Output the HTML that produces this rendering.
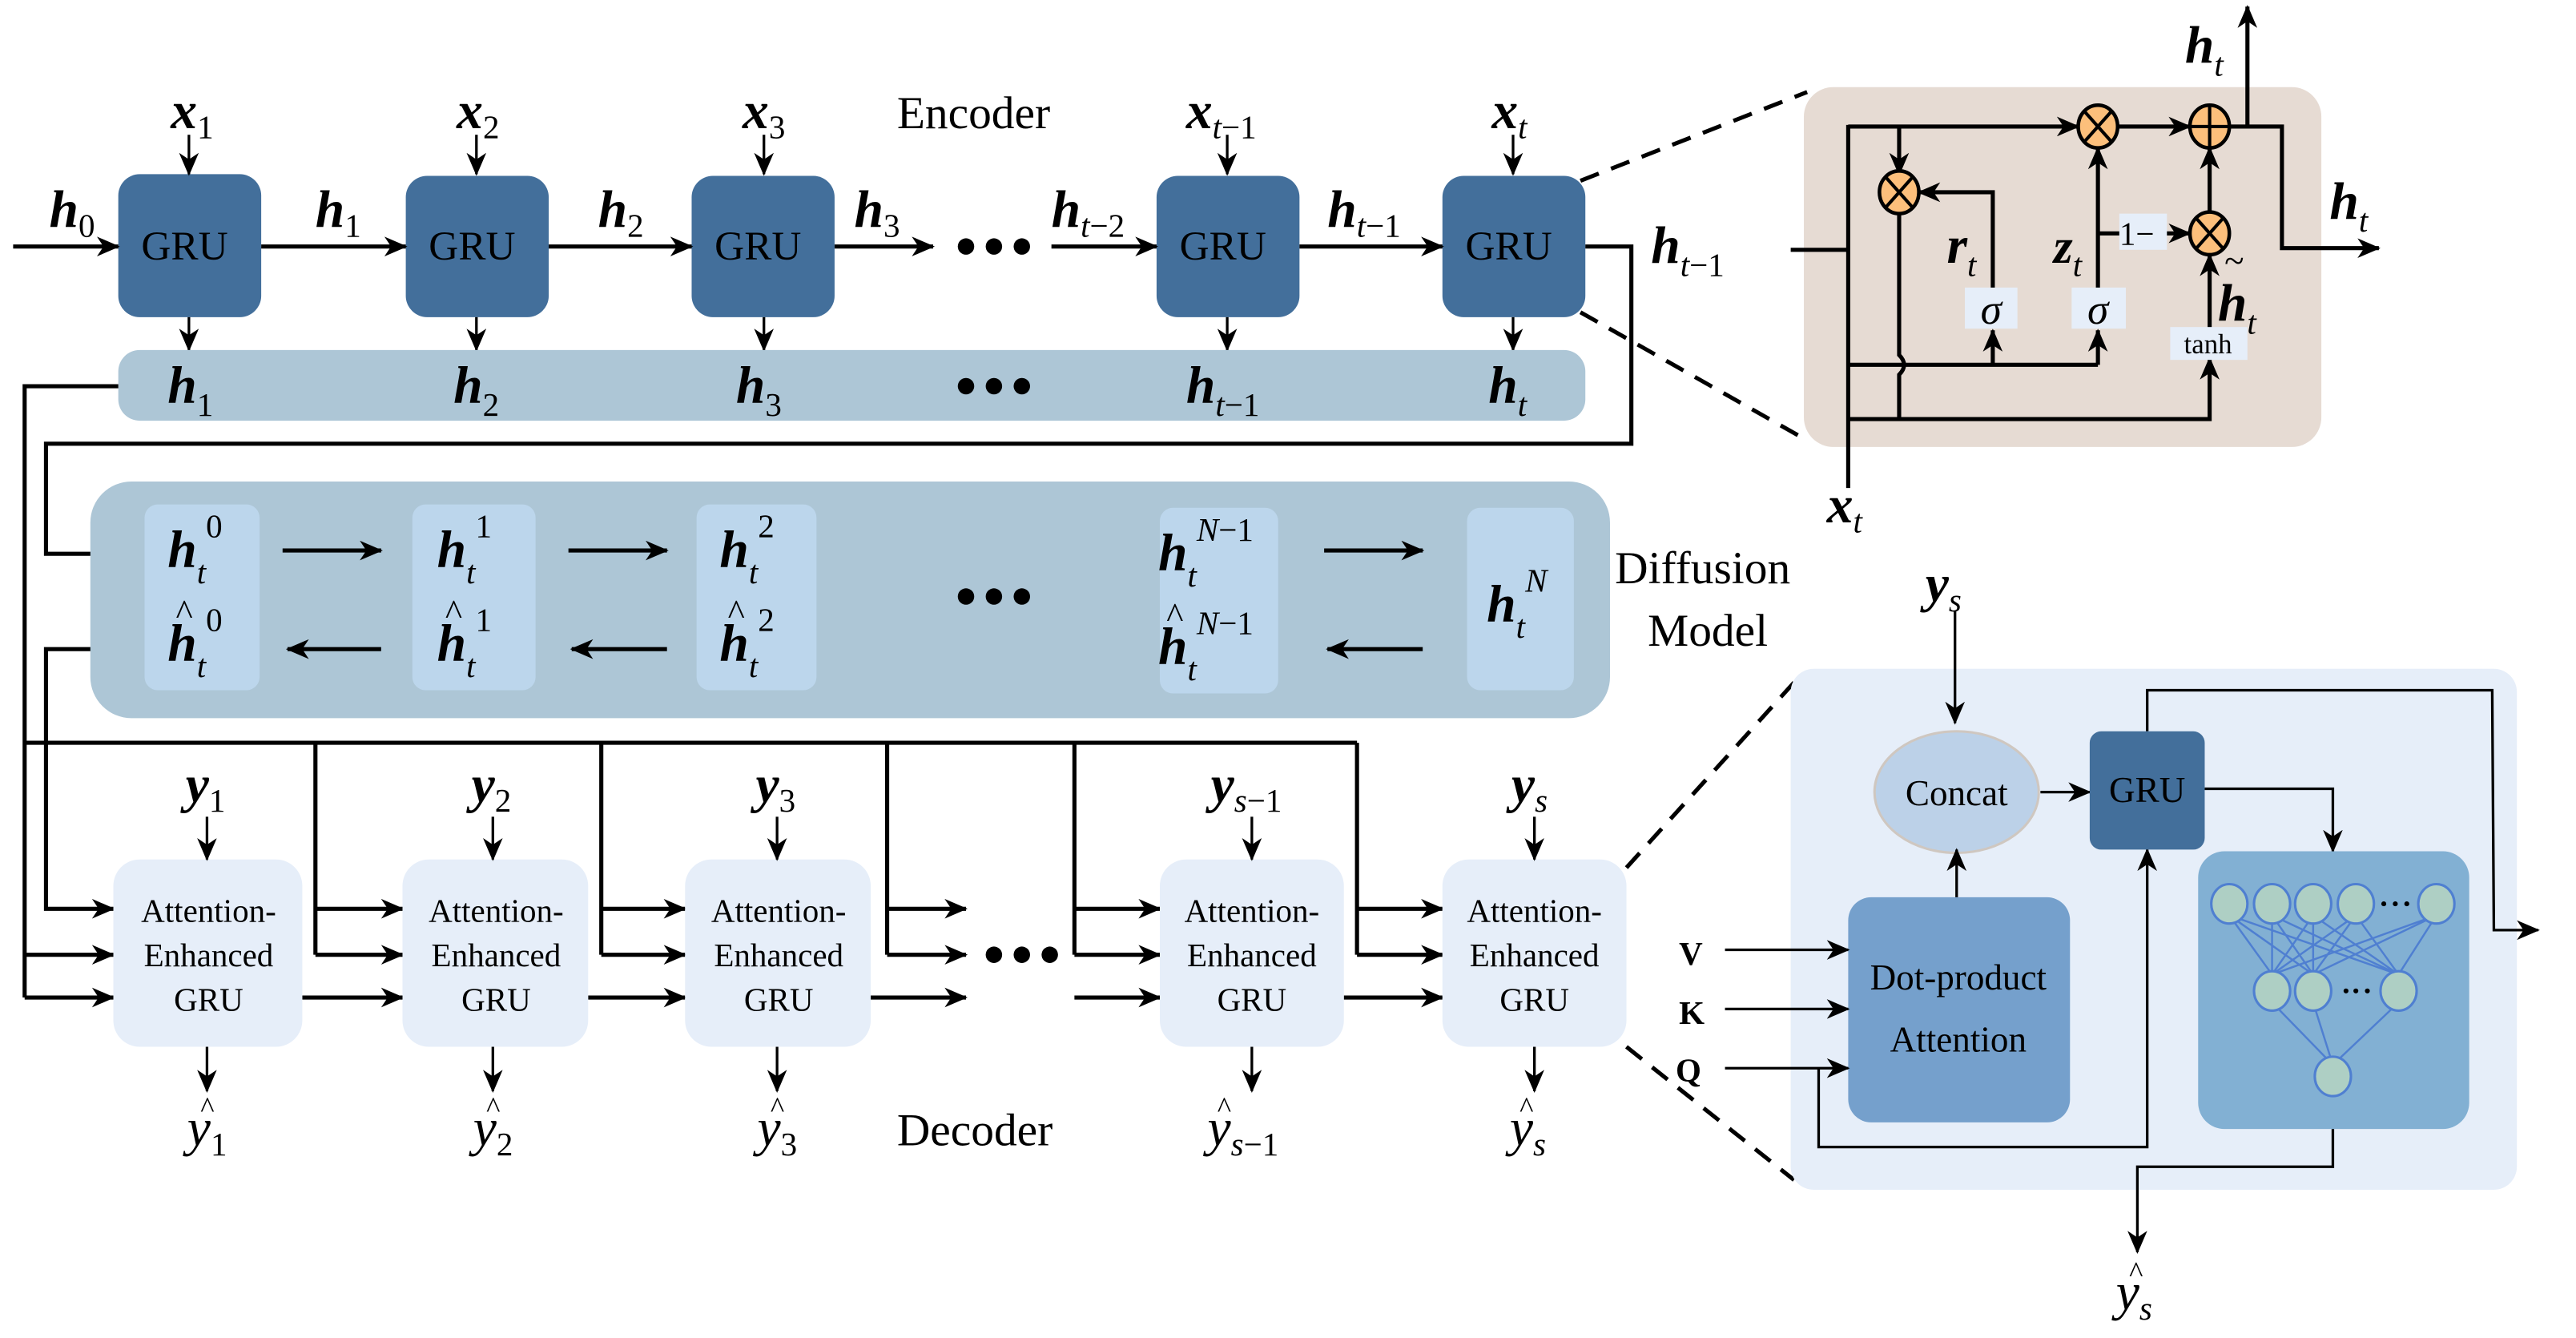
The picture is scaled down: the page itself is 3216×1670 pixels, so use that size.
<!DOCTYPE html>
<html><head><meta charset="utf-8"><style>
html,body{margin:0;padding:0;background:#fff;}
svg{display:block;}
text{font-family:"Liberation Serif",serif;fill:#000;}
.v{font-style:italic;font-weight:bold;font-size:32px;}
.s{font-style:italic;font-weight:normal;font-size:20px;}
.n{font-style:normal;font-weight:normal;font-size:20px;}
.yb{font-style:italic;font-weight:normal;font-size:32px;}
.g{font-size:25px;}
.a{font-size:20px;}
.ln{stroke:#000;stroke-width:2.5;fill:none;}
.tk{stroke:#000;stroke-width:1.6;fill:none;}
.d{stroke:#000;stroke-width:2.5;fill:none;stroke-dasharray:12 8;}
</style></head><body>
<svg width="3216" height="1670" viewBox="0 0 1568 814.2" preserveAspectRatio="none" xmlns="http://www.w3.org/2000/svg">
<defs>
<marker id="ar" markerUnits="userSpaceOnUse" markerWidth="14" markerHeight="12" refX="13" refY="6" orient="auto"><path d="M0,0 L14,6 L0,12 L4,6 Z" fill="#000"/></marker>
</defs>

<text x="546" y="78" font-size="28">Encoder</text>
<g fill="#436f9b">
<rect x="72" y="106" width="87" height="87" rx="13"/>
<rect x="247" y="107" width="87" height="86" rx="13"/>
<rect x="421" y="107" width="87" height="86" rx="13"/>
<rect x="704" y="107" width="87" height="86" rx="13"/>
<rect x="878" y="107" width="87" height="86" rx="13"/>
</g>
<g class="g"><text x="86" y="158">GRU</text><text x="261" y="158">GRU</text><text x="435" y="158">GRU</text><text x="718" y="158">GRU</text><text x="892" y="158">GRU</text></g>
<text x="104" y="78"><tspan class="v">x</tspan><tspan class="n" dy="6">1</tspan></text>
<text x="278" y="78"><tspan class="v">x</tspan><tspan class="n" dy="6">2</tspan></text>
<text x="452" y="78"><tspan class="v">x</tspan><tspan class="n" dy="6">3</tspan></text>
<text x="722" y="78"><tspan class="v">x</tspan><tspan class="s" dy="6">t</tspan><tspan class="n">−1</tspan></text>
<text x="908" y="78"><tspan class="v">x</tspan><tspan class="s" dy="6">t</tspan></text>
<g class="tk" marker-end="url(#ar)">
<line x1="115" y1="82" x2="115" y2="106"/><line x1="290" y1="82" x2="290" y2="106"/><line x1="465" y1="82" x2="465" y2="106"/><line x1="747" y1="82" x2="747" y2="106"/><line x1="921" y1="82" x2="921" y2="106"/>
<line x1="115" y1="193" x2="115" y2="213"/><line x1="290" y1="193" x2="290" y2="213"/><line x1="465" y1="193" x2="465" y2="213"/><line x1="747" y1="193" x2="747" y2="213"/><line x1="921" y1="193" x2="921" y2="213"/>
</g>
<g class="ln" marker-end="url(#ar)">
<line x1="8" y1="150" x2="72" y2="150"/><line x1="159" y1="150" x2="247" y2="150"/><line x1="334" y1="150" x2="421" y2="150"/><line x1="508" y1="150" x2="568" y2="150"/><line x1="640" y1="150" x2="704" y2="150"/><line x1="791" y1="150" x2="878" y2="150"/>
</g>
<text x="30" y="138"><tspan class="v">h</tspan><tspan class="n" dy="6">0</tspan></text>
<text x="192" y="138"><tspan class="v">h</tspan><tspan class="n" dy="6">1</tspan></text>
<text x="364" y="138"><tspan class="v">h</tspan><tspan class="n" dy="6">2</tspan></text>
<text x="520" y="138"><tspan class="v">h</tspan><tspan class="n" dy="6">3</tspan></text>
<text x="640" y="138"><tspan class="v">h</tspan><tspan class="s" dy="6">t</tspan><tspan class="n">−2</tspan></text>
<text x="808" y="138"><tspan class="v">h</tspan><tspan class="s" dy="6">t</tspan><tspan class="n">−1</tspan></text>
<g fill="#000"><circle cx="588" cy="150" r="5"/><circle cx="605" cy="150" r="5"/><circle cx="622" cy="150" r="5"/></g>

<rect x="72" y="213" width="893" height="43" rx="13" fill="#adc6d6"/>
<text x="102" y="245"><tspan class="v">h</tspan><tspan class="n" dy="8">1</tspan></text>
<text x="276" y="245"><tspan class="v">h</tspan><tspan class="n" dy="8">2</tspan></text>
<text x="448" y="245"><tspan class="v">h</tspan><tspan class="n" dy="8">3</tspan></text>
<text x="722" y="245"><tspan class="v">h</tspan><tspan class="s" dy="8">t</tspan><tspan class="n">−1</tspan></text>
<text x="906" y="245"><tspan class="v">h</tspan><tspan class="s" dy="8">t</tspan></text>
<g fill="#000"><circle cx="588" cy="235" r="5"/><circle cx="605" cy="235" r="5"/><circle cx="622" cy="235" r="5"/></g>

<polyline class="ln" points="72,235 15,235 15,607"/>
<polyline class="ln" points="965,150 993,150 993,270 28,270 28,337 88,337" marker-end="url(#ar)"/>
<polyline class="ln" points="88,395 28,395 28,553 69,553" marker-end="url(#ar)"/>

<rect x="55" y="293" width="925" height="144" rx="25" fill="#adc6d6"/>
<g fill="#bcd6ec">
<rect x="88" y="307" width="70" height="113" rx="8"/>
<rect x="251" y="307" width="75" height="113" rx="8"/>
<rect x="424" y="307" width="73" height="113" rx="8"/>
<rect x="706" y="309" width="72" height="113" rx="8"/>
<rect x="893" y="309" width="65" height="111" rx="8"/>
</g>
<g class="ln" marker-end="url(#ar)">
<line x1="172" y1="335" x2="232" y2="335"/><line x1="346" y1="335" x2="406" y2="335"/><line x1="806" y1="335" x2="866" y2="335"/>
<line x1="232" y1="395" x2="175" y2="395"/><line x1="406" y1="395" x2="348" y2="395"/><line x1="866" y1="395" x2="808" y2="395"/>
</g>
<g fill="#000"><circle cx="588" cy="363" r="5"/><circle cx="605" cy="363" r="5"/><circle cx="622" cy="363" r="5"/></g>
<g>
<text x="102" y="345"><tspan class="v">h</tspan><tspan class="s" dy="10">t</tspan><tspan class="n" dy="-28">0</tspan></text>
<text x="102" y="402"><tspan class="v">h</tspan><tspan class="s" dy="10">t</tspan><tspan class="n" dy="-28">0</tspan></text><text x="107" y="380" font-size="22">^</text>
<text x="266" y="345"><tspan class="v">h</tspan><tspan class="s" dy="10">t</tspan><tspan class="n" dy="-28">1</tspan></text>
<text x="266" y="402"><tspan class="v">h</tspan><tspan class="s" dy="10">t</tspan><tspan class="n" dy="-28">1</tspan></text><text x="271" y="380" font-size="22">^</text>
<text x="438" y="345"><tspan class="v">h</tspan><tspan class="s" dy="10">t</tspan><tspan class="n" dy="-28">2</tspan></text>
<text x="438" y="402"><tspan class="v">h</tspan><tspan class="s" dy="10">t</tspan><tspan class="n" dy="-28">2</tspan></text><text x="443" y="380" font-size="22">^</text>
<text x="705" y="347"><tspan class="v">h</tspan><tspan class="s" dy="10">t</tspan><tspan class="s" dy="-28">N</tspan><tspan class="n">−1</tspan></text>
<text x="705" y="404"><tspan class="v">h</tspan><tspan class="s" dy="10">t</tspan><tspan class="s" dy="-28">N</tspan><tspan class="n">−1</tspan></text><text x="710" y="382" font-size="22">^</text>
<text x="905" y="378"><tspan class="v">h</tspan><tspan class="s" dy="10">t</tspan><tspan class="s" dy="-28">N</tspan></text>
</g>
<text x="983" y="355" font-size="28">Diffusion</text>
<text x="1003" y="393" font-size="28">Model</text>

<polyline class="ln" points="15,452 826,452"/>
<g class="ln">
<line x1="192" y1="452" x2="192" y2="581"/><line x1="366" y1="452" x2="366" y2="581"/><line x1="540" y1="452" x2="540" y2="581"/><line x1="654" y1="452" x2="654" y2="581"/><line x1="826" y1="452" x2="826" y2="581"/>
</g>
<g class="ln" marker-end="url(#ar)">
<line x1="15" y1="581" x2="69" y2="581"/><line x1="15" y1="607" x2="69" y2="607"/>
<line x1="192" y1="553" x2="245" y2="553"/><line x1="192" y1="581" x2="245" y2="581"/><line x1="184" y1="607" x2="245" y2="607"/>
<line x1="366" y1="553" x2="417" y2="553"/><line x1="366" y1="581" x2="417" y2="581"/><line x1="358" y1="607" x2="417" y2="607"/>
<line x1="540" y1="553" x2="588" y2="553"/><line x1="540" y1="581" x2="588" y2="581"/><line x1="530" y1="607" x2="588" y2="607"/>
<line x1="654" y1="553" x2="706" y2="553"/><line x1="654" y1="581" x2="706" y2="581"/><line x1="654" y1="607" x2="706" y2="607"/>
<line x1="826" y1="553" x2="878" y2="553"/><line x1="826" y1="581" x2="878" y2="581"/><line x1="818" y1="607" x2="878" y2="607"/>
</g>
<g fill="#000"><circle cx="605" cy="581" r="5"/><circle cx="622" cy="581" r="5"/><circle cx="639" cy="581" r="5"/></g>
<g fill="#e6eef9">
<rect x="69" y="523" width="115" height="114" rx="16"/>
<rect x="245" y="523" width="113" height="114" rx="16"/>
<rect x="417" y="523" width="113" height="114" rx="16"/>
<rect x="706" y="523" width="112" height="114" rx="16"/>
<rect x="878" y="523" width="112" height="114" rx="16"/>
</g>
<g class="a" text-anchor="middle">
<text x="127" y="561">Attention-</text><text x="127" y="588">Enhanced</text><text x="127" y="615">GRU</text>
<text x="302" y="561">Attention-</text><text x="302" y="588">Enhanced</text><text x="302" y="615">GRU</text>
<text x="474" y="561">Attention-</text><text x="474" y="588">Enhanced</text><text x="474" y="615">GRU</text>
<text x="762" y="561">Attention-</text><text x="762" y="588">Enhanced</text><text x="762" y="615">GRU</text>
<text x="934" y="561">Attention-</text><text x="934" y="588">Enhanced</text><text x="934" y="615">GRU</text>
</g>
<g class="tk" marker-end="url(#ar)">
<line x1="126" y1="497" x2="126" y2="523"/><line x1="300" y1="497" x2="300" y2="523"/><line x1="473" y1="497" x2="473" y2="523"/><line x1="762" y1="497" x2="762" y2="523"/><line x1="934" y1="497" x2="934" y2="523"/>
<line x1="126" y1="637" x2="126" y2="664"/><line x1="300" y1="637" x2="300" y2="664"/><line x1="473" y1="637" x2="473" y2="664"/><line x1="762" y1="637" x2="762" y2="664"/><line x1="934" y1="637" x2="934" y2="664"/>
</g>
<text x="113" y="488"><tspan class="v">y</tspan><tspan class="n" dy="6">1</tspan></text>
<text x="287" y="488"><tspan class="v">y</tspan><tspan class="n" dy="6">2</tspan></text>
<text x="460" y="488"><tspan class="v">y</tspan><tspan class="n" dy="6">3</tspan></text>
<text x="737" y="488"><tspan class="v">y</tspan><tspan class="s" dy="6">s</tspan><tspan class="n">−1</tspan></text>
<text x="920" y="488"><tspan class="v">y</tspan><tspan class="s" dy="6">s</tspan></text>
<g font-size="18"><text x="122" y="680">^</text><text x="296" y="680">^</text><text x="469" y="680">^</text><text x="741" y="680">^</text><text x="925" y="680">^</text></g>
<text x="114" y="697"><tspan class="yb">y</tspan><tspan class="n" dy="6">1</tspan></text>
<text x="288" y="697"><tspan class="yb">y</tspan><tspan class="n" dy="6">2</tspan></text>
<text x="461" y="697"><tspan class="yb">y</tspan><tspan class="n" dy="6">3</tspan></text>
<text x="735" y="697"><tspan class="yb">y</tspan><tspan class="s" dy="6">s</tspan><tspan class="n">−1</tspan></text>
<text x="919" y="697"><tspan class="yb">y</tspan><tspan class="s" dy="6">s</tspan></text>
<text x="546" y="697" font-size="28">Decoder</text>

<line class="d" x1="962" y1="110" x2="1100" y2="56"/>
<line class="d" x1="962" y1="190" x2="1100" y2="268"/>
<rect x="1098" y="53" width="315" height="219" rx="18" fill="#e6dbd3"/>
<text x="1005" y="160"><tspan class="v">h</tspan><tspan class="s" dy="8">t</tspan><tspan class="n">−1</tspan></text>
<line class="ln" x1="1090" y1="152" x2="1125" y2="152"/>
<line class="ln" x1="1125" y1="76" x2="1125" y2="297"/>
<text x="1112" y="318"><tspan class="v">x</tspan><tspan class="s" dy="6">t</tspan></text>
<line class="ln" x1="1125" y1="77" x2="1265" y2="77" marker-end="url(#ar)"/>
<line class="ln" x1="1156" y1="77" x2="1156" y2="106" marker-end="url(#ar)"/>
<polyline class="ln" points="1213,175 1213,117 1168,117" marker-end="url(#ar)"/>
<path class="ln" d="M1156,129 L1156,216 Q1162,222 1156,228 L1156,255"/>
<polyline class="ln" points="1125,222 1277,222"/>
<line class="ln" x1="1213" y1="222" x2="1213" y2="201" marker-end="url(#ar)"/>
<line class="ln" x1="1277" y1="222" x2="1277" y2="201" marker-end="url(#ar)"/>
<polyline class="ln" points="1125,255 1345,255 1345,218" marker-end="url(#ar)"/>
<line class="ln" x1="1277" y1="175" x2="1277" y2="90" marker-end="url(#ar)"/>
<line class="ln" x1="1277" y1="142" x2="1333" y2="142" marker-end="url(#ar)"/>
<line class="ln" x1="1289" y1="77" x2="1333" y2="77" marker-end="url(#ar)"/>
<line class="ln" x1="1345" y1="200" x2="1345" y2="155" marker-end="url(#ar)"/>
<line class="ln" x1="1345" y1="130" x2="1345" y2="90" marker-end="url(#ar)"/>
<polyline class="ln" points="1357,77 1389,77 1389,151 1448,151" marker-end="url(#ar)"/>
<line class="ln" x1="1368" y1="77" x2="1368" y2="4" marker-end="url(#ar)"/>
<g fill="#e6eef9">
<rect x="1196" y="175" width="32" height="25"/><rect x="1261" y="175" width="33" height="25"/>
<rect x="1290" y="130" width="29" height="22"/><rect x="1321" y="199" width="47" height="20"/>
</g>
<text x="1212" y="197" text-anchor="middle" font-style="italic" font-size="26">σ</text>
<text x="1277" y="197" text-anchor="middle" font-style="italic" font-size="26">σ</text>
<text x="1290" y="149" font-size="20">1−</text>
<text x="1344" y="215" text-anchor="middle" font-size="17">tanh</text>
<text x="1185" y="160"><tspan class="v">r</tspan><tspan class="s" dy="8">t</tspan></text>
<text x="1250" y="160"><tspan style="font-style:italic;font-weight:bold;font-size:30px">z</tspan><tspan class="s" dy="8">t</tspan></text>
<text x="1350" y="195"><tspan class="v">h</tspan><tspan class="s" dy="8">t</tspan></text>
<text x="1354" y="166" font-size="22">~</text>
<text x="1330" y="38"><tspan class="v">h</tspan><tspan class="s" dy="8">t</tspan></text>
<text x="1418" y="133"><tspan class="v">h</tspan><tspan class="s" dy="8">t</tspan></text>
<g stroke="#000" stroke-width="2.2" fill="#fcbf7b">
<ellipse cx="1156" cy="117" rx="12" ry="13"/><ellipse cx="1277" cy="77" rx="12" ry="13"/><ellipse cx="1345" cy="77" rx="12" ry="13"/><ellipse cx="1345" cy="142" rx="12" ry="13"/>
</g>
<g stroke="#000" stroke-width="2">
<path d="M1148,108 L1164,126 M1164,108 L1148,126"/>
<path d="M1269,68 L1285,86 M1285,68 L1269,86"/>
<path d="M1345,64 L1345,90 M1333,77 L1357,77"/>
<path d="M1337,133 L1353,151 M1353,133 L1337,151"/>
</g>

<line class="d" x1="990" y1="528" x2="1095" y2="412"/>
<line class="d" x1="990" y1="637" x2="1092" y2="718"/>
<rect x="1090" y="407" width="442" height="317" rx="14" fill="#e6eef9"/>
<text x="1172" y="366"><tspan class="v">y</tspan><tspan class="s" dy="6">s</tspan></text>
<line class="tk" x1="1190" y1="372" x2="1190" y2="440" marker-end="url(#ar)"/>
<ellipse cx="1191" cy="482" rx="50" ry="37" fill="#bcd1e8" stroke="#cfc7c0" stroke-width="1.5"/>
<text x="1191" y="490" text-anchor="middle" font-size="22">Concat</text>
<rect x="1125" y="546" width="135" height="137" rx="14" fill="#75a0cc"/>
<text x="1192" y="602" text-anchor="middle" font-size="22">Dot-product</text>
<text x="1192" y="640" text-anchor="middle" font-size="22">Attention</text>
<line class="tk" x1="1191" y1="546" x2="1191" y2="517" marker-end="url(#ar)"/>
<g font-weight="bold" font-size="20"><text x="1022" y="587">V</text><text x="1022" y="623">K</text><text x="1020" y="658">Q</text></g>
<g class="tk" marker-end="url(#ar)">
<line x1="1050" y1="578" x2="1125" y2="578"/><line x1="1050" y1="614" x2="1125" y2="614"/><line x1="1050" y1="650" x2="1125" y2="650"/>
<polyline points="1107,650 1107,698 1307,698 1307,517"/>
<line x1="1242" y1="482" x2="1272" y2="482"/>
<polyline points="1342,480 1420,480 1420,518"/>
<polyline points="1307,445 1307,420 1517,420 1518,566 1545,566"/>
<polyline points="1420,687 1420,710 1301,710 1301,762"/>
</g>
<rect x="1272" y="445" width="70" height="72" rx="7" fill="#436f9b"/>
<text x="1307" y="488" text-anchor="middle" font-size="22">GRU</text>
<rect x="1338" y="518" width="165" height="169" rx="16" fill="#82b0d3"/>
<g stroke="#4f7fd1" stroke-width="1.2">
<path d="M1357,557 L1383,593 M1357,557 L1408,593 M1357,557 L1460,593 M1383,557 L1383,593 M1383,557 L1408,593 M1383,557 L1460,593 M1408,557 L1383,593 M1408,557 L1408,593 M1408,557 L1460,593 M1434,557 L1383,593 M1434,557 L1408,593 M1434,557 L1460,593 M1483,557 L1383,593 M1483,557 L1408,593 M1483,557 L1460,593 M1383,610 L1420,648 M1408,610 L1420,648 M1460,610 L1420,648"/>
</g>
<g fill="#aecfc4" stroke="#4f7fd1" stroke-width="1.5">
<ellipse cx="1357" cy="550" rx="11" ry="12"/><ellipse cx="1383" cy="550" rx="11" ry="12"/><ellipse cx="1408" cy="550" rx="11" ry="12"/><ellipse cx="1434" cy="550" rx="11" ry="12"/><ellipse cx="1483" cy="550" rx="11" ry="12"/>
<ellipse cx="1383" cy="603" rx="11" ry="12"/><ellipse cx="1408" cy="603" rx="11" ry="12"/><ellipse cx="1460" cy="603" rx="11" ry="12"/>
<ellipse cx="1420" cy="655" rx="11" ry="12"/>
</g>
<g fill="#000"><circle cx="1451" cy="550" r="1.5"/><circle cx="1458" cy="550" r="1.5"/><circle cx="1465" cy="550" r="1.5"/><circle cx="1428" cy="603" r="1.5"/><circle cx="1434" cy="603" r="1.5"/><circle cx="1441" cy="603" r="1.5"/></g>
<text x="1296" y="780" font-size="18">^</text>
<text x="1288" y="797"><tspan class="yb">y</tspan><tspan class="s" dy="6">s</tspan></text>
</svg>
</body></html>
